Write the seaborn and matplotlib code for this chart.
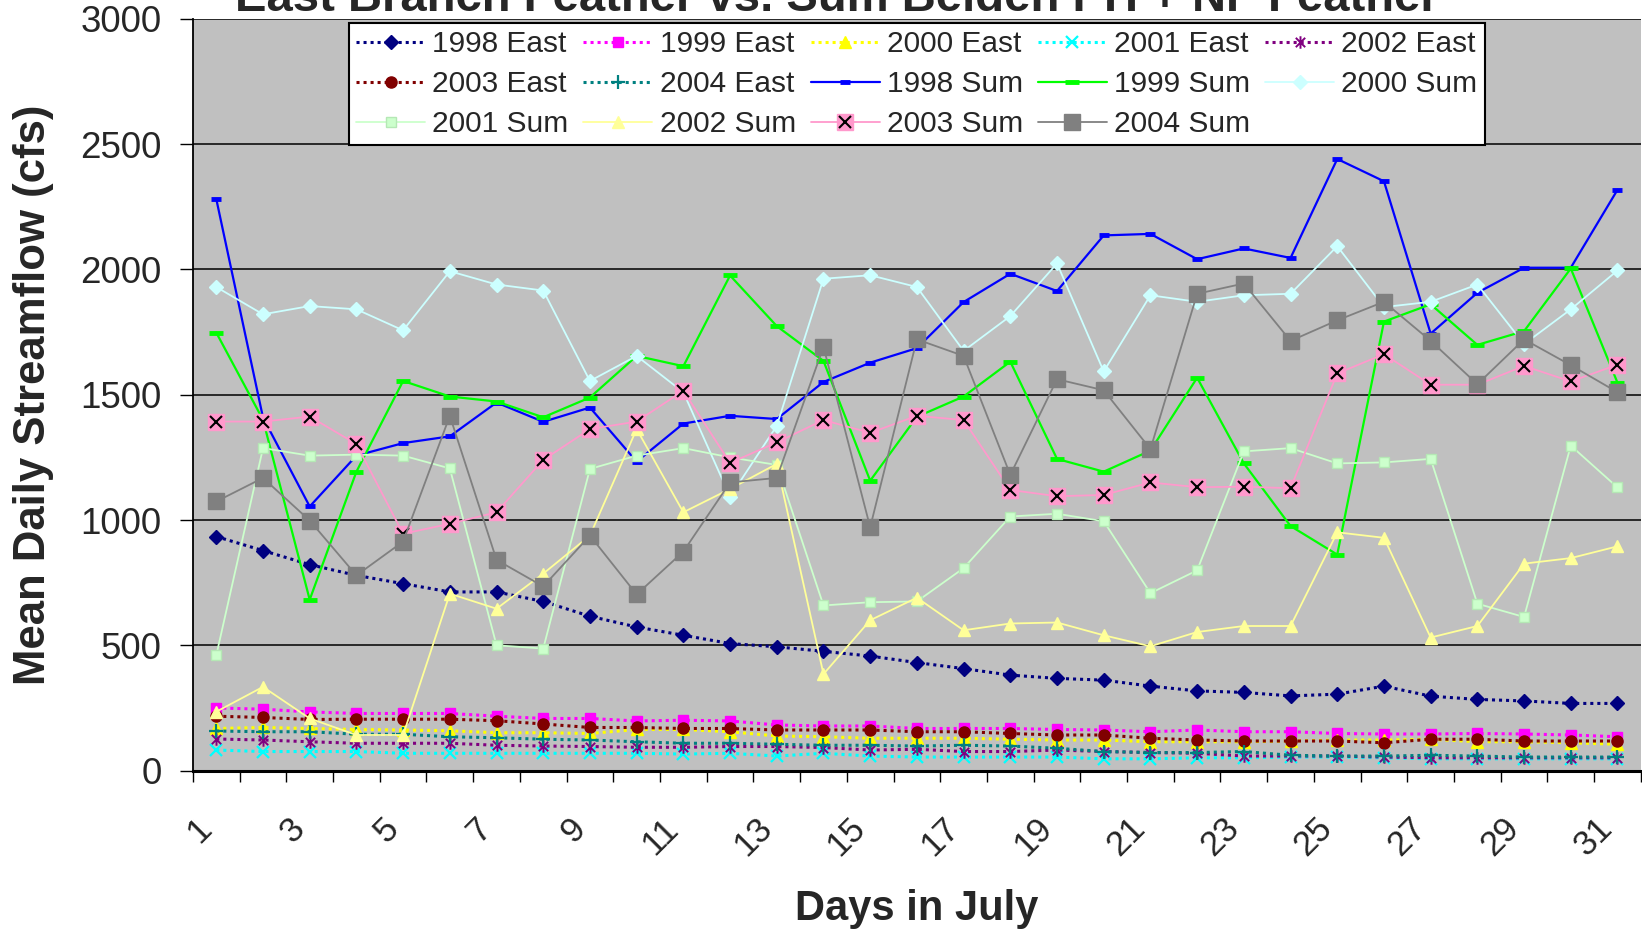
import matplotlib
matplotlib.use("Agg")
import matplotlib.pyplot as plt
from matplotlib.path import Path
from matplotlib.transforms import ScaledTranslation
import seaborn as sns

# Daily values for July (cfs)
days = list(range(1, 32))

east_1998 = [934, 878, 822, 779, 746, 713, 713, 675, 616, 573, 540, 507, 494, 476, 457, 431,
             407, 381, 368, 361, 337, 318, 312, 298, 305, 337, 297, 284, 278, 268, 268]
east_1999 = [250, 245, 234, 228, 228, 228, 217, 208, 208, 198, 201, 198, 182, 178, 178, 168,
             168, 168, 164, 162, 155, 162, 155, 155, 148, 146, 146, 148, 146, 142, 135]
east_2000 = [168, 172, 168, 164, 162, 159, 151, 151, 148, 164, 164, 155, 138, 135, 129, 129,
             129, 125, 122, 122, 115, 115, 115, 118, 122, 122, 125, 115, 115, 111, 105]
east_2001 = [82, 76, 76, 76, 69, 69, 69, 69, 69, 69, 66, 69, 58, 69, 58, 54,
             54, 54, 54, 47, 47, 51, 51, 54, 54, 51, 47, 47, 47, 47, 47]
east_2002 = [126, 122, 115, 109, 109, 109, 101, 98, 96, 93, 93, 96, 96, 92, 82, 85,
             76, 76, 82, 76, 72, 69, 58, 58, 58, 54, 51, 51, 51, 51, 51]
east_2003 = [217, 212, 204, 205, 205, 205, 199, 186, 172, 172, 168, 168, 162, 162, 162, 155,
             155, 148, 142, 142, 129, 122, 118, 118, 118, 111, 125, 125, 118, 118, 118]
east_2004 = [158, 155, 155, 145, 145, 135, 131, 125, 122, 115, 109, 109, 105, 101, 101, 98,
             101, 98, 89, 76, 72, 72, 76, 61, 58, 58, 61, 58, 54, 54, 54]

sum_1998 = [2281, 1409, 1054, 1257, 1307, 1334, 1469, 1392, 1449, 1233, 1385, 1416, 1403, 1551,
            1628, 1686, 1870, 1983, 1914, 2136, 2142, 2041, 2084, 2046, 2441, 2352, 1744, 1907,
            2007, 2007, 2318]
sum_1999 = [1748, 1400, 682, 1193, 1555, 1493, 1473, 1410, 1489, 1655, 1614, 1976, 1774, 1635,
            1157, 1412, 1493, 1632, 1244, 1193, 1277, 1568, 1226, 976, 862, 1792, 1861, 1699,
            1754, 2004, 1548]
sum_2000 = [1930, 1821, 1854, 1841, 1757, 1993, 1940, 1916, 1555, 1655, 1510, 1093, 1376, 1963,
            1977, 1930, 1675, 1814, 2024, 1593, 1897, 1871, 1897, 1903, 2093, 1850, 1871, 1940,
            1702, 1841, 1996]
sum_2001 = [460, 1287, 1257, 1261, 1257, 1206, 500, 487, 1204, 1257, 1287, 1250, 1220, 659,
            672, 675, 808, 1014, 1025, 995, 708, 799, 1274, 1287, 1226, 1230, 1244, 666,
            613, 1297, 1130]
sum_2002 = [235, 334, 208, 142, 142, 706, 646, 786, 938, 1363, 1031, 1124, 1224, 385,
            600, 690, 560, 587, 591, 540, 496, 553, 577, 577, 951, 929, 531, 577,
            826, 848, 895]
sum_2003 = [1393, 1393, 1413, 1303, 945, 985, 1031, 1240, 1363, 1393, 1516, 1228, 1310, 1399,
            1348, 1416, 1399, 1120, 1095, 1100, 1150, 1131, 1133, 1127, 1585, 1662, 1540, 1540,
            1615, 1553, 1620]
sum_2004 = [1074, 1168, 998, 779, 914, 1416, 841, 735, 938, 703, 874, 1150, 1168, 1691,
            971, 1721, 1655, 1180, 1562, 1518, 1283, 1903, 1944, 1715, 1797, 1871, 1715, 1542,
            1721, 1618, 1510]

sns.set_style("white")
plt.rcParams["font.family"] = ["Liberation Sans", "DejaVu Sans"]

# asterisk marker: vertical bar plus an x
asterisk = Path([(0, -1), (0, 1), (-0.75, -0.75), (0.75, 0.75), (-0.75, 0.75), (0.75, -0.75)],
                [Path.MOVETO, Path.LINETO, Path.MOVETO, Path.LINETO, Path.MOVETO, Path.LINETO])

dot = (0, (1.0, 1.3))

fig = plt.figure(figsize=(16.42, 9.32), dpi=100)
ax = fig.add_axes([0.1175, 0.1732, 0.8818, 0.8065])
ax.set_facecolor("#C0C0C0")

handles = {}


def draw(name, values, **kw):
    sns.lineplot(x=days, y=values, ax=ax, **kw)
    handles[name] = ax.lines[-1]


# East Branch series (dotted)
draw("1998 East", east_1998, color="#000080", lw=2.2, linestyle=dot, marker="D", ms=7,
     mec="#000080", mfc="#000080", mew=1)
draw("1999 East", east_1999, color="#FF00FF", lw=2.2, linestyle=dot, marker="s", ms=7.5,
     mec="#FF00FF", mfc="#FF00FF", mew=1)
draw("2000 East", east_2000, color="#FFFF00", lw=2.2, linestyle=dot, marker="^", ms=8.5,
     mec="#FFFF00", mfc="#FFFF00", mew=1)
draw("2001 East", east_2001, color="#00FFFF", lw=2.2, linestyle=dot, marker="x", ms=8,
     mec="#00FFFF", mew=1.6)
draw("2002 East", east_2002, color="#800080", lw=2.2, linestyle=dot, marker=asterisk, ms=9,
     mec="#800080", mfc="none", mew=1.4)
draw("2003 East", east_2003, color="#800000", lw=2.2, linestyle=dot, marker="o", ms=8,
     mec="#800000", mfc="#800000", mew=1)
draw("2004 East", east_2004, color="#008080", lw=2.2, linestyle=dot, marker="+", ms=10,
     mec="#008080", mew=1.6)

# Sum of Belden PH + NF Feather (solid)
draw("1998 Sum", sum_1998, color="#0000FF", lw=1.6, marker="_", ms=7, mec="#0000FF", mew=3.5)
draw("1999 Sum", sum_1999, color="#00FF00", lw=1.6, marker="_", ms=10, mec="#00FF00", mew=3.5)
draw("2000 Sum", sum_2000, color="#CCFFFF", lw=1.3, marker="D", ms=7, mec="#CCFFFF",
     mfc="#CCFFFF", mew=1)
draw("2001 Sum", sum_2001, color="#CCFFCC", lw=1.3, marker="s", ms=7.5, mec="#B5E8B5",
     mfc="#CCFFCC", mew=1)
draw("2002 Sum", sum_2002, color="#FFFF99", lw=1.3, marker="^", ms=9, mec="#FFFF99",
     mfc="#FFFF99", mew=1)
draw("2003 Sum", sum_2003, color="#FF99CC", lw=1.3, marker="s", ms=11.5, mec="#FF99CC",
     mfc="#FF99CC", mew=1)
sns.lineplot(x=days, y=sum_2003, ax=ax, color="black", linestyle="none", marker="x", ms=8,
             mec="black", mew=1.5)
x2003 = ax.lines[-1]
draw("2004 Sum", sum_2004, color="#808080", lw=1.3, marker="s", ms=11.5, mec="#808080",
     mfc="#808080", mew=1)

# Axes limits, grid and ticks
ax.set_xlim(0.5, 31.5)
ax.set_ylim(0, 3000)
ax.set_yticks(range(0, 3001, 500))
ax.yaxis.grid(True, color="black", lw=1.1)
ax.xaxis.grid(False)
ax.set_axisbelow(True)

ax.set_xticks([d - 0.5 for d in range(1, 33)])
ax.set_xticklabels([])
ax.set_xticks(days[::2], minor=True)
ax.set_xticklabels([str(d) for d in days[::2]], minor=True, rotation=45, ha="right",
                   va="center", rotation_mode="anchor", fontsize=25)
ax.tick_params(axis="x", which="major", direction="out", length=8, width=1, color="black",
               bottom=True)
ax.tick_params(axis="x", which="minor", length=0, pad=38, bottom=True)
ax.tick_params(axis="y", which="major", direction="out", length=9.4, width=1, color="black",
               pad=13, labelsize=26.5, left=True)
shift = ScaledTranslation(-0.10, 0, fig.dpi_scale_trans)
for lbl in ax.get_xticklabels(minor=True):
    lbl.set_transform(lbl.get_transform() + shift)

for side in ("left", "bottom"):
    ax.spines[side].set_color("black")
ax.spines["left"].set_linewidth(1.3)
ax.spines["bottom"].set_linewidth(2.2)
ax.spines["top"].set_visible(False)
ax.spines["right"].set_visible(False)

ax.set_xlabel("Days in July", fontsize=30, fontweight="bold")
ax.xaxis.set_label_coords(0.5, -0.157)
ax.set_ylabel("Mean Daily Streamflow (cfs)", fontsize=31.5, fontweight="bold")
ax.yaxis.set_label_coords(-0.096, 0.5)

fig.text(0.5097, 0.9887, "East Branch Feather vs. Sum Belden PH + NF Feather",
         fontsize=34, fontweight="bold", ha="center", va="baseline")

# Legend filled row by row across five columns
row_order = ["1998 East", "1999 East", "2000 East", "2001 East", "2002 East",
             "2003 East", "2004 East", "1998 Sum", "1999 Sum", "2000 Sum",
             "2001 Sum", "2002 Sum", "2003 Sum", "2004 Sum"]
ncol = 5
col_order = []
for c in range(ncol):
    for r in range(3):
        i = r * ncol + c
        if i < len(row_order):
            col_order.append(row_order[i])
leg_handles = [(handles[n], x2003) if n == "2003 Sum" else handles[n] for n in col_order]
leg = ax.legend(leg_handles, col_order, ncol=ncol, loc="upper center",
                bbox_to_anchor=(0.5, 0.995), fontsize=21.5, frameon=True, fancybox=False,
                framealpha=1, facecolor="white", edgecolor="black", handlelength=2.3,
                handletextpad=0.25, columnspacing=0.5, labelspacing=0.4, borderpad=0.25,
                borderaxespad=0, numpoints=1)
leg.get_frame().set_linewidth(1.5)
leg.set_zorder(10)

fig.savefig("out.png", dpi=100, facecolor="white")
